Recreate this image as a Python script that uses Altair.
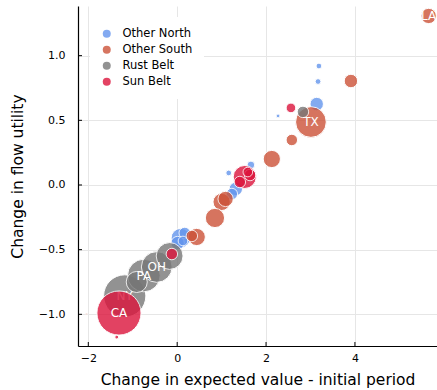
import altair as alt
import pandas as pd

# Region groups, drawn in this order (later groups sit on top)
groups = ["Other North", "Other South", "Rust Belt", "Sun Belt"]
group_colors = ["#6495ED", "#CC5238", "#777777", "#DC143C"]

# Change in expected value (x), change in flow utility (y), population weight, label
north_x = [3.19, 3.17, 3.14, 2.27, 1.16, 1.66, 1.32, 1.23, 0.08, 0.17, 0.01, 0.13]
north_y = [0.92, 0.80, 0.626, 0.534, 0.093, 0.155, -0.03, -0.07, -0.41, -0.371, -0.449, -0.433]
north_pop = [0.68, 0.68, 3.7, 0.30, 0.68, 1.2, 3.7, 2.7, 7.6, 2.7, 3.7, 1.9]
north_lab = ["", "", "", "", "", "", "", "", "", "", "", ""]

south_x = [5.66, 3.91, 3.01, 2.58, 2.13, 1.00, 1.09, 0.85, 0.44, 0.33, -2.04]
south_y = [1.307, 0.804, 0.487, 0.348, 0.201, -0.131, -0.108, -0.255, -0.402, -0.394, -0.998]
south_pop = [4.8, 3.7, 19.4, 2.7, 6.1, 6.1, 4.8, 7.6, 6.1, 2.7, 0.05]
south_lab = ["LA", "", "TX", "", "", "", "", "", "", "", ""]

rust_x = [-1.18, -0.75, -0.91, -0.46, -0.17, 2.83]
rust_y = [-0.858, -0.70, -0.75, -0.634, -0.549, 0.565]
rust_pop = [36.6, 21.9, 9.1, 19.4, 14.8, 2.7]
rust_lab = ["NY", "PA", "", "OH", "", ""]

sun_x = [-1.31, -1.36, -0.12, 1.52, 1.64, 1.41, 1.59, 2.56]
sun_y = [-0.99, -1.176, -0.534, 0.062, 0.077, 0.023, 0.10, 0.596]
sun_pop = [40.0, 0.30, 2.7, 10.9, 2.7, 2.7, 1.9, 1.9]
sun_lab = ["CA", "", "", "", "", "", "", ""]

x_ticks = [-2, 0, 2, 4]
y_ticks = [-1.0, -0.5, 0.0, 0.5, 1.0]

series = {
    "Other North": (north_x, north_y, north_pop, north_lab),
    "Other South": (south_x, south_y, south_pop, south_lab),
    "Rust Belt": (rust_x, rust_y, rust_pop, rust_lab),
    "Sun Belt": (sun_x, sun_y, sun_pop, sun_lab),
}

W, H = 359, 340

x_scale = alt.Scale(domain=[-2.232, 5.847], nice=False, zero=False)
y_scale = alt.Scale(domain=[-1.245, 1.384], nice=False, zero=False)
X = alt.X("x:Q", scale=x_scale,
          axis=alt.Axis(values=x_ticks, format="d", labelPadding=6,
                        title="Change in expected value - initial period", titlePadding=9))
Y = alt.Y("y:Q", scale=y_scale,
          axis=alt.Axis(values=y_ticks, format=".1f", labelPadding=13,
                        title="Change in flow utility", titlePadding=13))
size_enc = alt.Size("pop:Q", scale=alt.Scale(domain=[0, 40], range=[0, 1950]), legend=None)
color_enc = alt.Color("group:N", scale=alt.Scale(domain=groups, range=group_colors),
                      legend=alt.Legend(title=None))

layers = []
for g in groups:
    xs, ys, ps, ls = series[g]
    df = pd.DataFrame({"x": xs, "y": ys, "pop": ps, "label": ls, "group": g})
    dots = alt.Chart(df).mark_circle(opacity=0.8, stroke="white", strokeWidth=1).encode(
        x=X, y=Y, size=size_enc, color=color_enc
    )
    labels = alt.Chart(df[df["label"] != ""]).mark_text(
        color="white", fontSize=12, font="DejaVu Sans", align="center", baseline="middle"
    ).encode(x=X, y=Y, text="label:N")
    layers += [dots, labels]

# Inward-pointing tick marks on both axes
xt = alt.Chart(pd.DataFrame({"x": x_ticks})).mark_rule(color="black", strokeWidth=1).encode(
    x=X, y=alt.value(H), y2=alt.value(H - 4)
)
yt = alt.Chart(pd.DataFrame({"y": y_ticks})).mark_rule(color="black", strokeWidth=1).encode(
    y=Y, x=alt.value(0), x2=alt.value(4)
)

chart = alt.layer(*layers, xt, yt).properties(
    width=W, height=H,
    padding={"left": 78, "top": 6, "right": 0, "bottom": 44},
    autosize=alt.AutoSizeParams(type="none"),
).configure_view(stroke=None).configure_axis(
    grid=True, gridColor="#e6e6e6", gridWidth=1,
    domainColor="black", domainWidth=1.2,
    ticks=False, tickSize=0,
    labelFont="DejaVu Sans", labelFontSize=11, labelColor="black",
    titleFont="DejaVu Sans", titleFontSize=15.5, titleFontWeight="normal", titleColor="black",
).configure_legend(
    orient="none", legendX=12, legendY=11, padding=11, fillColor="white",
    symbolType="circle", symbolSize=64, symbolStrokeWidth=0, symbolOpacity=0.8,
    labelFont="DejaVu Sans", labelFontSize=11.5, labelColor="black",
    labelOffset=10, rowPadding=3,
)

chart.save("out.html", embed_options={"renderer": "svg", "actions": False})
